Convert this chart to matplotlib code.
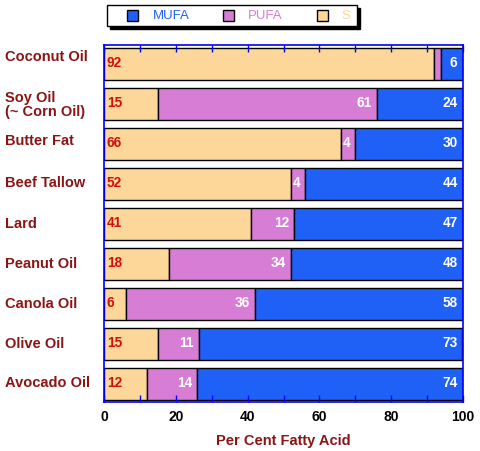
import matplotlib
matplotlib.use("Agg")
import matplotlib.pyplot as plt
from matplotlib.patches import Rectangle
import matplotlib.transforms as mtrans
import numpy as np

plt.rcParams['font.family'] = ['Liberation Sans', 'DejaVu Sans']

oils = ["Coconut Oil", "Soy Oil\n(~ Corn Oil)", "Butter Fat", "Beef Tallow", "Lard",
        "Peanut Oil", "Canola Oil", "Olive Oil", "Avocado Oil"]
sat = [92, 15, 66, 52, 41, 18, 6, 15, 12]
pufa = [2, 61, 4, 4, 12, 34, 36, 11.4, 14]
mufa = [6, 24, 30, 44, 47, 48, 58, 73.4, 74]
pufa_shown = [False, True, True, True, True, True, True, True, True]
legend_labels = ["MUFA", "PUFA", "S"]

C_MUFA = "#1F60F6"
C_PUFA = "#D77DD5"
C_S = "#FDD699"
DARK_RED = "#8B1515"
RED = "#D01010"

W, H = 480, 451
fig = plt.figure(figsize=(W/100, H/100), dpi=100)
ax = fig.add_axes([104/W, 1-402/H, 359/W, 357/H])

y = np.arange(len(oils))
h = 0.8
sat_a = np.array(sat, float); pufa_a = np.array(pufa, float); mufa_a = np.array(mufa, float)
ax.barh(y, sat_a, height=h, color=C_S, edgecolor="black", linewidth=1)
ax.barh(y, pufa_a, left=sat_a, height=h, color=C_PUFA, edgecolor="black", linewidth=1)
ax.barh(y, mufa_a, left=sat_a + pufa_a, height=h, color=C_MUFA, edgecolor="black", linewidth=1)

fs = 9.8
for i in range(len(oils)):
    ax.text(0.8, y[i] - 0.03, f"{sat[i]:.0f}", color=RED, fontsize=fs, fontweight='bold',
            ha='left', va='center')
    if pufa_shown[i]:
        ax.text(sat_a[i] + pufa_a[i] - 1.3, y[i] - 0.03, f"{pufa[i]:.0f}", color='white', fontsize=fs,
                fontweight='bold', ha='right', va='center')
    ax.text(98.5, y[i] - 0.03, f"{mufa[i]:.0f}", color='white', fontsize=fs,
            fontweight='bold', ha='right', va='center')

ax.set_xlim(0, 100)
ax.set_ylim(len(oils) - 1 + 0.45, -0.475)

ax.set_xticks([0, 20, 40, 60, 80, 100])
ax.set_xticks(np.arange(0, 101, 10), minor=True)
ax.tick_params(axis='x', which='both', direction='in', top=True, bottom=True,
               length=5, color='blue', width=1)
ax.tick_params(axis='x', which='major', labelsize=10, pad=6)
for lab in ax.get_xticklabels():
    lab.set_fontweight('bold')

ax.set_yticks(y)
ax.set_yticklabels(oils)
ax.tick_params(axis='y', length=0, pad=71, labelsize=10.5, labelcolor=DARK_RED)
offs = [-0.22, -0.02, -0.12, -0.07, -0.05, -0.03, -0.05, -0.05, -0.07]
for lab, o in zip(ax.get_yticklabels(), offs):
    lab.set_ha('left')
    lab.set_fontweight('bold')
    lab.set_linespacing(1.05)
    lab.set_transform(lab.get_transform() + mtrans.ScaledTranslation(0, -o * 40 / 100, fig.dpi_scale_trans))

for s in ax.spines.values():
    s.set_color('blue')
    s.set_linewidth(1.2)

ax.set_xlabel("Per Cent Fatty Acid", color=DARK_RED, fontsize=10.5, fontweight='bold', labelpad=7)

# legend box drawn in figure pixel coordinates
def px(x0, y0, w, hh):
    return (x0 / W, 1 - (y0 + hh) / H), w / W, hh / H

(xy, w, hh) = px(110, 8, 250, 21)
fig.patches.append(Rectangle(xy, w, hh, transform=fig.transFigure, facecolor='black',
                             edgecolor='black', zorder=1))
(xy, w, hh) = px(107, 5, 250, 21)
fig.patches.append(Rectangle(xy, w, hh, transform=fig.transFigure, facecolor='white',
                             edgecolor='black', linewidth=1, zorder=2))
sq_x = [127, 223, 317]
tx_x = [153, 248, 341]
for sx, tx, c, lab in zip(sq_x, tx_x, [C_MUFA, C_PUFA, C_S], legend_labels):
    (xy, w, hh) = px(sx, 10.5, 11, 10)
    fig.patches.append(Rectangle(xy, w, hh, transform=fig.transFigure, facecolor=c,
                                 edgecolor='black', linewidth=1, zorder=3))
    fig.text(tx / W, 1 - 16 / H, lab, color=c, fontsize=9.5, ha='left', va='center', zorder=4)

fig.savefig("out.png", dpi=100)
